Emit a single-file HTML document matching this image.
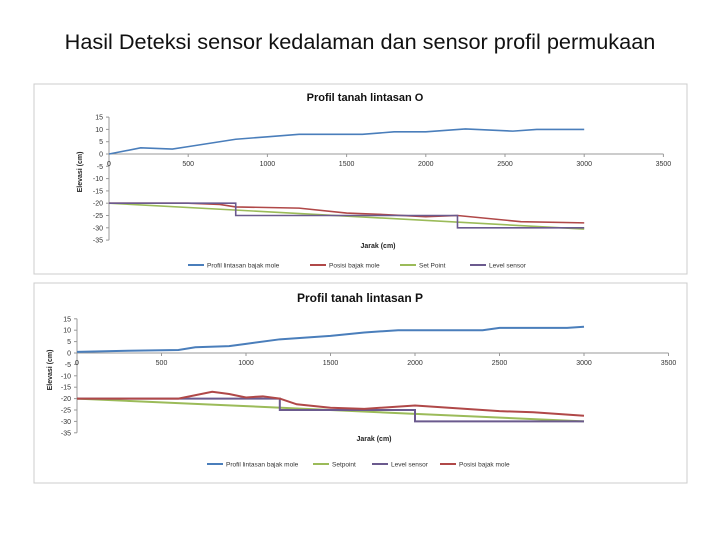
<!DOCTYPE html>
<html><head><meta charset="utf-8"><style>
body{margin:0;width:720px;height:540px;background:#fff;overflow:hidden;font-family:"Liberation Sans",sans-serif}
#title{position:absolute;left:0;top:29px;width:720px;text-align:center;font-size:21.7px;color:#111}
svg{position:absolute;left:0;top:0}
</style></head><body>
<div id="title">Hasil Deteksi sensor kedalaman dan sensor profil permukaan</div>
<svg id="s" width="720" height="540"></svg>
<script>
// Chart O data
const xTicks=[0,500,1000,1500,2000,2500,3000,3500];
const yTicks=[15,10,5,0,-5,-10,-15,-20,-25,-30,-35];
const oProfilX=[0,200,400,500,800,1000,1200,1600,1800,2000,2250,2550,2700,3000];
const oProfilY=[0,2.5,2,3,6,7,8,8,9,9,10.2,9.3,10,10];
const oPosisiX=[0,500,700,800,1200,1500,1700,2000,2200,2600,3000];
const oPosisiY=[-20,-20,-20.5,-21.5,-22,-24,-24.5,-25.5,-25,-27.5,-28];
const oSetX=[0,3000];
const oSetY=[-20,-30.5];
const oLevelX=[0,800,800,2200,2200,3000];
const oLevelY=[-20,-20,-25,-25,-30,-30];
// Chart P data
const pProfilX=[0,300,600,700,900,1000,1200,1500,1700,1900,2400,2500,2900,3000];
const pProfilY=[0.5,1,1.3,2.5,3,4,6,7.5,9,10,10,11,11,11.5];
const pSetX=[0,1000,2000,3000];
const pSetY=[-20,-23.3,-26.7,-30];
const pLevelX=[0,1200,1200,2000,2000,3000];
const pLevelY=[-20,-20,-25,-25,-30,-30];
const pPosisiX=[0,300,600,800,900,1000,1100,1200,1300,1500,1700,2000,2500,2700,3000];
const pPosisiY=[-20,-20,-20,-17,-18,-19.5,-19,-20,-22.5,-24,-24.5,-23,-25.5,-26,-27.5];

const NS='http://www.w3.org/2000/svg',S=document.getElementById('s');
function mk(t,a,p){const e=document.createElementNS(NS,t);for(const k in a)e.setAttribute(k,a[k]);(p||S).appendChild(e);return e;}
function chart(c){
  const g=mk('g',{});
  
  
  const fr=mk('rect',{x:c.fx,y:c.fy,width:c.fw,height:c.fh,fill:'#fff',stroke:'#ccc'},g);
  
  
  const X=v=>c.x0+v*c.sx, Y=v=>c.y0-v*c.sy;
  const t=mk('text',{x:c.tx,y:c.ty,'text-anchor':'middle','font-size':c.tfs,'font-weight':'bold',fill:'#111'},g);t.textContent=c.title;
  
  
  mk('line',{x1:X(0),y1:Y(15),x2:X(0),y2:Y(-35),stroke:'#999','stroke-width':1},g);
  mk('line',{x1:X(0),y1:Y(0),x2:X(3500),y2:Y(0),stroke:'#999','stroke-width':1},g);
  yTicks.forEach(v=>{mk('line',{x1:X(0)-3,y1:Y(v),x2:X(0),y2:Y(v),stroke:'#999'},g);
    const l=mk('text',{x:X(0)-6,y:Y(v)+2.5,'text-anchor':'end','font-size':7,fill:'#333'},g);l.textContent=v;
    
    });
  xTicks.forEach(v=>{mk('line',{x1:X(v),y1:Y(0),x2:X(v),y2:Y(0)+3,stroke:'#999'},g);
    const l=mk('text',{x:X(v),y:Y(0)+12,'text-anchor':'middle','font-size':7,fill:'#333'},g);l.textContent=v;
    
    });
  const xt=mk('text',{x:c.xtx,y:c.xty,'text-anchor':'middle','font-size':7,'font-weight':'bold',fill:'#222'},g);xt.textContent='Jarak (cm)';
  
  
  const yt=mk('text',{x:0,y:0,'text-anchor':'middle','font-size':7,'font-weight':'bold',fill:'#222',transform:`translate(${c.ytx},${c.yty}) rotate(-90)`},g);yt.textContent=c.ytitle;
  
  
  c.series.forEach(s=>{
    const p=mk('polyline',{points:s.x.map((v,i)=>X(v)+','+Y(s.y[i])).join(' '),fill:'none',stroke:s.color,'stroke-width':s.w||1.6},g);
    
    
  });
  c.legend.forEach((s,i)=>{
    const lx=c.lx[i];
    mk('line',{x1:lx,y1:c.ly,x2:lx+16,y2:c.ly,stroke:s.color,'stroke-width':2},g);
    const l=mk('text',{x:lx+19,y:c.ly+2.5,'font-size':6.5,fill:'#333'},g);l.textContent=s.label;
    
    
  });
}
const B='#4a7ebb',R='#b04848',G='#9bbb59',P='#6b5a8e';
const oS=[{id:'profil',label:'Profil lintasan bajak mole',x:oProfilX,y:oProfilY,color:B},
 {id:'posisi',label:'Posisi bajak mole',x:oPosisiX,y:oPosisiY,color:R},
 {id:'setpoint',label:'Set Point',x:oSetX,y:oSetY,color:G},
 {id:'level',label:'Level sensor',x:oLevelX,y:oLevelY,color:P}];
chart({name:'chart-lintasan-o',fx:34,fy:84,fw:653,fh:190,x0:109,y0:154,sx:79.2/500,sy:12.3/5,
 tx:365,ty:101,tfs:11,title:'Profil tanah lintasan O',xtx:378,xty:248,ytx:82,yty:172,ytitle:'Elevasi (cm)',
 series:oS,legend:oS,lx:[188,310,400,470],ly:265});
const pS=[{id:'profil',label:'Profil lintasan bajak mole',x:pProfilX,y:pProfilY,color:B,w:2},
 {id:'setpoint',label:'Setpoint',x:pSetX,y:pSetY,color:G,w:2},
 {id:'level',label:'Level sensor',x:pLevelX,y:pLevelY,color:P,w:2},
 {id:'posisi',label:'Posisi bajak mole',x:pPosisiX,y:pPosisiY,color:R,w:2}];
chart({name:'chart-lintasan-p',fx:34,fy:283,fw:653,fh:200,x0:77,y0:353,sx:84.5/500,sy:11.4/5,
 tx:360,ty:302,tfs:12,title:'Profil tanah lintasan P',xtx:374,xty:441,ytx:52,yty:370,ytitle:'Elevasi (cm)',
 series:pS,legend:pS,lx:[207,313,372,440],ly:464});
</script>
</body></html>
